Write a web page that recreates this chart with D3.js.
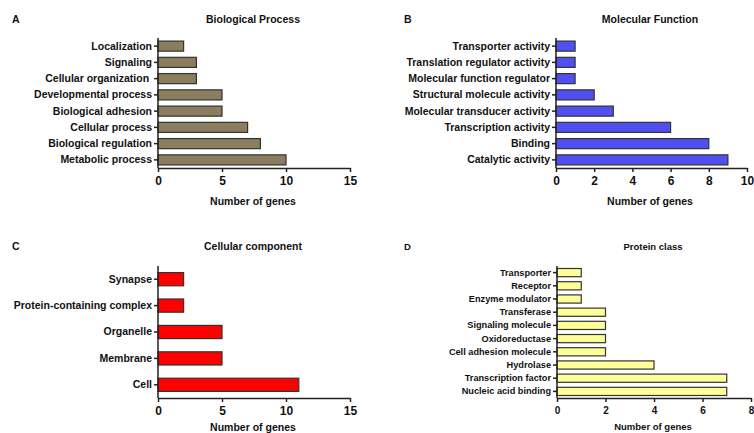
<!DOCTYPE html>
<html><head><meta charset="utf-8">
<script src="https://cdn.jsdelivr.net/npm/d3@7"></script>
<style>body{margin:0;background:#fff}svg{display:block;font-family:"Liberation Sans",Arial,sans-serif;font-weight:bold}</style>
</head><body>
<svg id="c" width="754" height="433"></svg>
<script>
const bpCategories = ["Localization","Signaling","Cellular organization\u00A0","Developmental process","Biological adhesion","Cellular process","Biological regulation","Metabolic process"];
const bpValues = [2,3,3,5,5,7,8,10];
const bpTicks = [0,5,10,15];

const mfCategories = ["Transporter activity","Translation regulator activity","Molecular function regulator","Structural molecule activity","Molecular transducer activity","Transcription activity","Binding","Catalytic activity"];
const mfValues = [1,1,1,2,3,6,8,9];
const mfTicks = [0,2,4,6,8,10];

const ccCategories = ["Synapse","Protein-containing complex","Organelle","Membrane","Cell"];
const ccValues = [2,2,5,5,11];
const ccTicks = [0,5,10,15];

const pcCategories = ["Transporter","Receptor","Enzyme modulator","Transferase","Signaling molecule","Oxidoreductase","Cell adhesion molecule","Hydrolase","Transcription factor","Nucleic acid binding"];
const pcValues = [1,1,1,2,2,2,2,4,7,7];
const pcTicks = [0,2,4,6,8];

const svg = d3.select("#c");

function panel(o){
  const g = svg.append("g");
  const x = d3.scaleLinear().domain([0, o.max]).range([o.x0, o.x1]);
  const y = d3.scaleBand().domain(o.cats).range([o.y0, o.y1]).paddingInner(o.pad).paddingOuter(o.pad/2);
  g.selectAll("rect").data(o.vals).join("rect")
    .attr("x", x(0)).attr("y", (d,i)=>y(o.cats[i]))
    .attr("width", d=>x(d)-x(0)).attr("height", y.bandwidth())
    .attr("fill", o.color).attr("stroke", "#333").attr("stroke-width", 1.2);
  const xa = g.append("g").attr("transform", `translate(0,${o.y1})`)
    .call(d3.axisBottom(x).tickValues(o.ticks).tickSize(4).tickSizeOuter(0).tickFormat(d3.format("d")));
  xa.select(".domain").attr("stroke","#222").attr("stroke-width",1.5);
  xa.selectAll(".tick line").attr("stroke","#222").attr("stroke-width",1.5);
  xa.selectAll("text").attr("font-size", o.tickFs).attr("font-weight","bold").attr("fill","#111").attr("font-family","Liberation Sans, Arial, sans-serif").attr("dy","0.85em");
  const ya = g.append("g").attr("transform", `translate(${o.x0},0)`)
    .call(d3.axisLeft(y).tickSize(4).tickSizeOuter(0).tickPadding(2));
  ya.select(".domain").attr("stroke","#222").attr("stroke-width",1.5).attr("d", `M-0,${o.y0}V${o.y1}`);
  ya.selectAll(".tick line").attr("stroke","#222").attr("stroke-width",1.5);
  ya.selectAll("text").attr("font-size", o.labFs).attr("font-weight","bold").attr("fill","#111").attr("font-family","Liberation Sans, Arial, sans-serif");
  g.append("text").attr("x", o.titleX).attr("y", o.titleY).attr("text-anchor","middle").attr("font-size", o.titleFs).attr("fill","#111").text(o.title);
  g.append("text").attr("x", o.letterX).attr("y", o.titleY).attr("font-size", o.titleFs).attr("fill","#111").text(o.letter);
  g.append("text").attr("x", o.xtX).attr("y", o.xtY).attr("text-anchor","middle").attr("font-size", o.titleFs).attr("fill","#111").text("Number of genes");
}

panel({cats:bpCategories, vals:bpValues, ticks:bpTicks, max:15, x0:158, x1:350, y0:38, y1:168, pad:0.38, color:"#8B7D5E",
  title:"Biological Process", letter:"A", titleX:253, titleY:23, letterX:12, xtX:253, xtY:205, labFs:10.5, tickFs:12, titleFs:10.5});
panel({cats:mfCategories, vals:mfValues, ticks:mfTicks, max:10, x0:556, x1:747, y0:38, y1:168, pad:0.38, color:"#5050F0",
  title:"Molecular Function", letter:"B", titleX:650, titleY:23, letterX:404, xtX:650, xtY:205, labFs:10.5, tickFs:12, titleFs:10.5});
panel({cats:ccCategories, vals:ccValues, ticks:ccTicks, max:15, x0:158, x1:350, y0:266, y1:398, pad:0.5, color:"#FF0000",
  title:"Cellular component", letter:"C", titleX:253, titleY:250, letterX:12, xtX:253, xtY:431, labFs:10.5, tickFs:12, titleFs:10.5});
panel({cats:pcCategories, vals:pcValues, ticks:pcTicks, max:8, x0:557, x1:751, y0:266, y1:398, pad:0.38, color:"#FFFF99",
  title:"Protein class", letter:"D", titleX:653, titleY:250, letterX:404, xtX:653, xtY:430, labFs:9.2, tickFs:10, titleFs:9.5});
</script>
</body></html>
